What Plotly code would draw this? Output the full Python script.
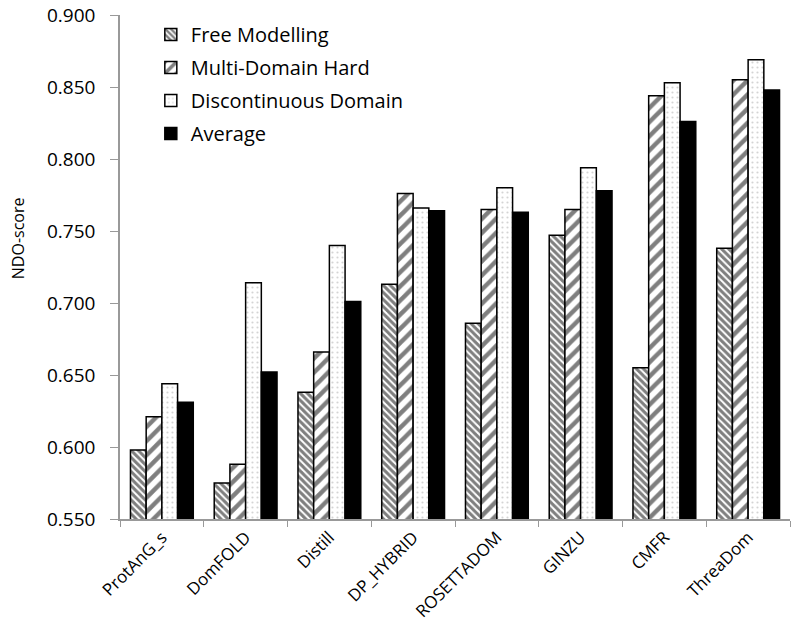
import plotly.graph_objects as go

categories = ["ProtAnG_s", "DomFOLD", "Distill", "DP_HYBRID", "ROSETTADOM", "GINZU", "CMFR", "ThreaDom"]
free_modelling = [0.598, 0.575, 0.638, 0.713, 0.686, 0.747, 0.655, 0.738]
multi_domain_hard = [0.621, 0.588, 0.666, 0.776, 0.765, 0.765, 0.844, 0.855]
discontinuous = [0.644, 0.714, 0.740, 0.766, 0.780, 0.794, 0.853, 0.869]
average = [0.631, 0.652, 0.701, 0.764, 0.763, 0.778, 0.826, 0.848]
y_ticks = [0.55, 0.60, 0.65, 0.70, 0.75, 0.80, 0.85, 0.90]

FONT = "Open Sans"

fig = go.Figure()
fig.add_bar(name="Free Modelling", x=categories, y=free_modelling, legendgroup="a",
            marker=dict(color="white", line=dict(color="black", width=1.5),
                        pattern=dict(shape="\\", fgcolor="black", bgcolor="white", size=5, solidity=0.6)))
fig.add_bar(name="Multi-Domain Hard", x=categories, y=multi_domain_hard, legendgroup="b",
            marker=dict(color="white", line=dict(color="black", width=1.5),
                        pattern=dict(shape="/", fgcolor="black", bgcolor="white", size=10, solidity=0.45)))
fig.add_bar(name="Discontinuous Domain", x=categories, y=discontinuous, legendgroup="c",
            marker=dict(color="white", line=dict(color="black", width=1.5),
                        pattern=dict(shape=".", fgcolor="#aaaaaa", bgcolor="white", size=5, solidity=0.15)))
fig.add_bar(name="Average", x=categories, y=average, legendgroup="d",
            marker=dict(color="black", line=dict(color="black", width=1.5)))

fig.update_layout(
    width=792, height=625,
    margin=dict(l=120, r=2, t=15, b=106),
    paper_bgcolor="white", plot_bgcolor="white",
    barmode="group", bargap=0.25, bargroupgap=0,
    font=dict(family=FONT, size=17, color="black"),
    legend=dict(x=0.046, y=1.0, xanchor="left", yanchor="top",
                font=dict(family=FONT, size=20, color="black"),
                bgcolor="rgba(0,0,0,0)", tracegroupgap=4, itemwidth=30),
    showlegend=True,
    annotations=[dict(text="NDO-score", textangle=-90, xref="paper", yref="paper",
                      x=-0.152, y=0.5575, xanchor="center", yanchor="middle", showarrow=False,
                      font=dict(family=FONT, size=16, color="black"))],
)
fig.update_xaxes(showline=True, linecolor="#999999", linewidth=1.5,
                 ticks="outside", tickson="boundaries", ticklen=6, tickcolor="#999999",
                 tickangle=-45, tickfont=dict(family=FONT, size=17), showgrid=False,
                 automargin=False, ticklabeloverflow="allow")
fig.update_yaxes(range=[0.55, 0.90], tickvals=y_ticks, tickformat=".3f",
                 showline=True, linecolor="#999999", linewidth=1.5,
                 ticks="outside", ticklen=8, tickcolor="#999999",
                 showgrid=False, zeroline=False, automargin=False,
                 ticklabeloverflow="allow",
                 tickfont=dict(family=FONT, size=19), ticklabelstandoff=11)

fig.write_html("out.html", config={"displayModeBar": False},
               post_script="document.body.style.margin='0';")
